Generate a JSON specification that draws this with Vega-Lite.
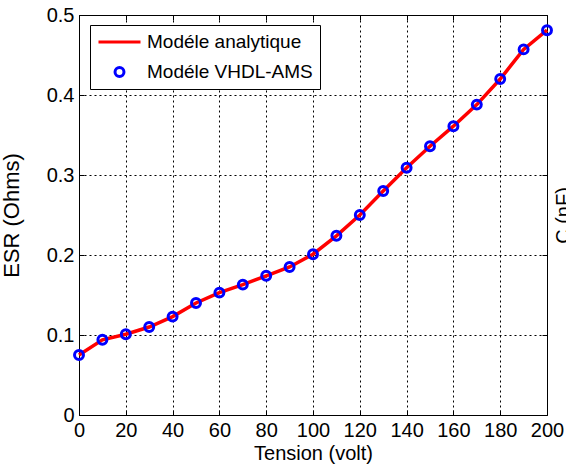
{
  "$schema": "https://vega.github.io/schema/vega-lite/v6.json",
  "autosize": {"type": "none"},
  "width": 468,
  "height": 400,
  "padding": {"left": 79, "top": 15, "right": 19, "bottom": 57},
  "background": "white",
  "config": {
    "font": "Liberation Sans",
    "view": {"stroke": "black", "strokeWidth": 1},
    "axis": {
      "labelFont": "Liberation Sans",
      "titleFont": "Liberation Sans",
      "labelColor": "black",
      "titleColor": "black",
      "titleFontWeight": "normal",
      "tickColor": "black",
      "domain": false,
      "labelFontSize": 20,
      "titleFontSize": 20
    }
  },
  "data": {
    "values": [
      {"V": 0, "Modéle analytique": 0.075, "Modéle VHDL-AMS": 0.075},
      {"V": 10, "Modéle analytique": 0.094, "Modéle VHDL-AMS": 0.094},
      {"V": 20, "Modéle analytique": 0.101, "Modéle VHDL-AMS": 0.101},
      {"V": 30, "Modéle analytique": 0.110, "Modéle VHDL-AMS": 0.110},
      {"V": 40, "Modéle analytique": 0.123, "Modéle VHDL-AMS": 0.123},
      {"V": 50, "Modéle analytique": 0.140, "Modéle VHDL-AMS": 0.140},
      {"V": 60, "Modéle analytique": 0.153, "Modéle VHDL-AMS": 0.153},
      {"V": 70, "Modéle analytique": 0.163, "Modéle VHDL-AMS": 0.163},
      {"V": 80, "Modéle analytique": 0.174, "Modéle VHDL-AMS": 0.174},
      {"V": 90, "Modéle analytique": 0.185, "Modéle VHDL-AMS": 0.185},
      {"V": 100, "Modéle analytique": 0.201, "Modéle VHDL-AMS": 0.201},
      {"V": 110, "Modéle analytique": 0.224, "Modéle VHDL-AMS": 0.224},
      {"V": 120, "Modéle analytique": 0.250, "Modéle VHDL-AMS": 0.250},
      {"V": 130, "Modéle analytique": 0.280, "Modéle VHDL-AMS": 0.280},
      {"V": 140, "Modéle analytique": 0.309, "Modéle VHDL-AMS": 0.309},
      {"V": 150, "Modéle analytique": 0.336, "Modéle VHDL-AMS": 0.336},
      {"V": 160, "Modéle analytique": 0.361, "Modéle VHDL-AMS": 0.361},
      {"V": 170, "Modéle analytique": 0.388, "Modéle VHDL-AMS": 0.388},
      {"V": 180, "Modéle analytique": 0.420, "Modéle VHDL-AMS": 0.420},
      {"V": 190, "Modéle analytique": 0.457, "Modéle VHDL-AMS": 0.457},
      {"V": 200, "Modéle analytique": 0.481, "Modéle VHDL-AMS": 0.481}
    ]
  },
  "transform": [
    {"fold": ["Modéle analytique", "Modéle VHDL-AMS"], "as": ["serie", "ESR"]}
  ],
  "layer": [
    {
      "transform": [{"filter": "datum.serie == 'Modéle analytique'"}],
      "mark": {"type": "line", "strokeWidth": 3.5},
      "encoding": {
        "x": {
          "field": "V", "type": "quantitative",
          "scale": {"domain": [0, 200], "nice": false, "zero": false},
          "axis": {
            "orient": "bottom",
            "values": [0, 20, 40, 60, 80, 100, 120, 140, 160, 180, 200],
            "grid": true, "gridColor": "black", "gridDash": [2, 3], "gridWidth": 1, "gridOpacity": 1,
            "ticks": true, "tickSize": -5, "labelPadding": 10,
            "labelFlush": false, "labelOverlap": false,
            "title": "Tension (volt)", "titlePadding": 3
          }
        },
        "y": {
          "field": "ESR", "type": "quantitative",
          "scale": {"domain": [0, 0.5], "nice": false},
          "axis": {
            "orient": "left",
            "values": [0, 0.1, 0.2, 0.3, 0.4, 0.5],
            "format": "~g",
            "grid": true, "gridColor": "black", "gridDash": [2, 3], "gridWidth": 1, "gridOpacity": 1,
            "ticks": true, "tickSize": -5, "labelPadding": 10,
            "labelFlush": false, "labelOverlap": false,
            "title": "ESR (Ohms)", "titlePadding": 23, "titleFontSize": 22
          }
        },
        "color": {
          "field": "serie", "type": "nominal",
          "scale": {"domain": ["Modéle analytique", "Modéle VHDL-AMS"], "range": ["#ff0000", "#0000ff"]}
        }
      }
    },
    {
      "transform": [{"filter": "datum.serie == 'Modéle VHDL-AMS'"}],
      "mark": {"type": "point", "filled": false, "strokeWidth": 3, "opacity": 1},
      "encoding": {
        "x": {
          "field": "V", "type": "quantitative",
          "scale": {"domain": [0, 200], "nice": false, "zero": false},
          "axis": {
            "orient": "top",
            "values": [0, 20, 40, 60, 80, 100, 120, 140, 160, 180, 200],
            "grid": false, "labels": false, "ticks": true, "tickSize": -5, "title": null
          }
        },
        "y": {
          "field": "ESR", "type": "quantitative",
          "scale": {"domain": [0, 0.5], "nice": false},
          "axis": {
            "orient": "right",
            "values": [0, 0.1, 0.2, 0.3, 0.4, 0.5],
            "grid": false, "labels": false, "ticks": true, "tickSize": -5,
            "title": "C (nF)", "titleAngle": 270, "titleBaseline": "top", "titlePadding": 6, "titleFontSize": 20
          }
        },
        "color": {
          "field": "serie", "type": "nominal",
          "scale": {"domain": ["Modéle analytique", "Modéle VHDL-AMS"], "range": ["#ff0000", "#0000ff"]},
          "legend": {
            "orient": "none", "legendX": 11, "legendY": 10,
            "title": null,
            "strokeColor": "black", "fillColor": "white",
            "padding": 7,
            "clipHeight": 20,
            "labelFont": "Liberation Sans", "labelFontSize": 19, "labelColor": "black",
            "labelOffset": 5, "rowPadding": 10,
            "symbolStrokeWidth": 3, "labelLimit": 400
          }
        },
        "shape": {
          "field": "serie", "type": "nominal",
          "scale": {"domain": ["Modéle analytique", "Modéle VHDL-AMS"], "range": ["stroke", "circle"]}
        },
        "size": {
          "field": "serie", "type": "nominal",
          "scale": {"domain": ["Modéle analytique", "Modéle VHDL-AMS"], "range": [1764, 80]}
        }
      }
    }
  ],
  "resolve": {"axis": {"x": "independent", "y": "independent"}}
}
